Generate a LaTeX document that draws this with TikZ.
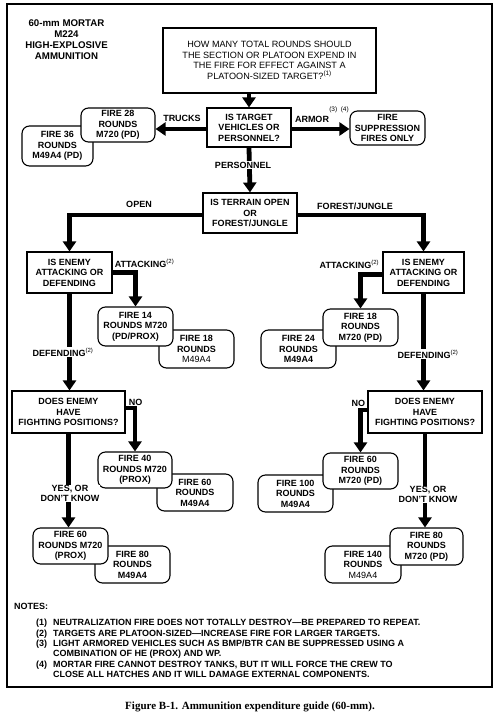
\documentclass[tikz,border=0pt]{standalone}
\usepackage{fontspec}
\setmainfont{Liberation Sans}
\newfontfamily\capfont{Liberation Serif}
\usetikzlibrary{arrows.meta,calc}
\begin{document}
\begin{tikzpicture}[x=1pt,y=-1pt,
  box/.style={draw, line width=1.1pt, fill=white, align=center, inner sep=0pt,
    font=\bfseries\fontsize{9}{10.4}\selectfont},
  qbox/.style={box},
  rbox/.style={box, rounded corners=7.5pt},
  flow/.style={line width=4.8pt, line join=miter, -{Triangle[width=13pt,length=10pt]}},
  lbl/.style={font=\bfseries\fontsize{9}{10.4}\selectfont, inner sep=0.6pt},
  wlbl/.style={lbl, fill=white, align=center},
  note/.style={font=\bfseries\fontsize{9}{10.4}\selectfont, inner sep=0pt, anchor=base west},
  supnum/.style={font=\fontsize{6.5}{7}\selectfont, inner sep=0pt}
]
\fill[white] (0,0) rectangle (500,718);
\useasboundingbox (0,0) rectangle (500,718);
\draw[line width=1.3pt] (7,4) rectangle (492,687);

% title
\node[align=center, inner sep=0pt, font=\bfseries\fontsize{9.7}{11}\selectfont] (title) at (66.5,39.5)
  {60-mm MORTAR\\M224\\HIGH-EXPLOSIVE\\AMMUNITION};

% question boxes
\node[qbox, font=\fontsize{9.1}{10.7}\selectfont, minimum width=213pt, minimum height=65pt] (top) at (269.5,60.5)
  {HOW MANY TOTAL ROUNDS SHOULD\\THE SECTION OR PLATOON EXPEND IN\\THE FIRE FOR EFFECT AGAINST A\\PLATOON-SIZED TARGET?\textsuperscript{(1)}};
\node[qbox, minimum width=84pt, minimum height=39pt] (target) at (249,127.5) {IS TARGET\\VEHICLES OR\\PERSONNEL?};
\node[qbox, minimum width=94pt, minimum height=40pt] (terrain) at (250,213) {IS TERRAIN OPEN\\OR\\FOREST/JUNGLE};
\node[qbox, minimum width=85pt, minimum height=41pt] (enemyL) at (69.5,272.5) {IS ENEMY\\ATTACKING OR\\DEFENDING};
\node[qbox, minimum width=81pt, minimum height=41pt] (enemyR) at (423.5,272.5) {IS ENEMY\\ATTACKING OR\\DEFENDING};
\node[qbox, minimum width=113pt, minimum height=42pt] (doesL) at (68.5,412) {DOES ENEMY\\HAVE\\FIGHTING POSITIONS?};
\node[qbox, minimum width=114pt, minimum height=42pt] (doesR) at (425,412) {DOES ENEMY\\HAVE\\FIGHTING POSITIONS?};

% result boxes (back ones first)
\node[rbox, minimum width=71pt, minimum height=40pt] (fire36) at (57.5,146) {FIRE 36\\ROUNDS\\M49A4 (PD)};
\node[rbox, minimum width=74pt, minimum height=34pt] (fire28) at (118,125) {FIRE 28\\ROUNDS\\M720 (PD)};
\node[rbox, minimum width=75pt, minimum height=34pt] (supp) at (387.5,128) {FIRE\\SUPPRESSION\\FIRES ONLY};

\node[rbox, minimum width=75pt, minimum height=38pt] (fire18L) at (196.5,349) {FIRE 18\\ROUNDS\\{\mdseries M49A4}};
\node[rbox, minimum width=75pt, minimum height=39pt] (fire14) at (135.5,326.5) {FIRE 14\\ROUNDS M720\\(PD/PROX)};

\node[rbox, minimum width=75pt, minimum height=38pt] (fire24) at (298.5,349) {FIRE 24\\ROUNDS\\M49A4};
\node[rbox, minimum width=75pt, minimum height=37pt] (fire18R) at (360.5,327.5) {FIRE 18\\ROUNDS\\M720 (PD)};

\node[rbox, minimum width=76pt, minimum height=37pt] (fire60L) at (195,492.5) {FIRE 60\\ROUNDS\\M49A4};
\node[rbox, minimum width=74pt, minimum height=36pt] (fire40) at (135,470) {FIRE 40\\ROUNDS M720\\(PROX)};

\node[rbox, minimum width=75pt, minimum height=37pt] (fire100) at (295.5,493.5) {FIRE 100\\ROUNDS\\M49A4};
\node[rbox, minimum width=75pt, minimum height=36pt] (fire60R) at (360.5,471) {FIRE 60\\ROUNDS\\M720 (PD)};

\node[rbox, minimum width=75pt, minimum height=37pt] (fire80L) at (132.5,564.5) {FIRE 80\\ROUNDS\\M49A4};
\node[rbox, minimum width=75pt, minimum height=36pt] (fire60P) at (70.5,546) {FIRE 60\\ROUNDS M720\\(PROX)};

\node[rbox, minimum width=76pt, minimum height=37pt] (fire140) at (363,564.5) {FIRE 140\\ROUNDS\\{\mdseries M49A4}};
\node[rbox, minimum width=73pt, minimum height=37pt] (fire80R) at (426.5,546.5) {FIRE 80\\ROUNDS\\M720 (PD)};

% connectors
\draw[flow] (target.north |- top.south) -- (target.north);
\draw[flow] ($(target.west)+(0,1.5)$) -- ($(target.west -| fire28.east)+(0,1.5)$);
\draw[flow] ($(target.east)+(0,1.5)$) -- ($(target.east -| supp.west)+(0,1.5)$);
\draw[flow] (target.south) -- (terrain.north);
\draw[flow] ($(terrain.west)+(0,2)$) -| (enemyL.north);
\draw[flow] ($(terrain.east)+(0,2)$) -| (enemyR.north);
\draw[flow] (enemyL.east) -| (fire14.north);
\draw[flow] (enemyL.south) -- (enemyL.south |- doesL.north);
\draw[flow] ($(enemyR.west)+(0,2)$) -| (fire18R.north);
\draw[flow] (enemyR.south) -- (enemyR.south |- doesR.north);
\draw[flow] ($(doesL.east)+(0,-4)$) -| (fire40.north);
\draw[flow] (doesL.south) -- (doesL.south |- fire60P.north);
\draw[flow] ($(doesR.west)+(0,-2)$) -| (fire60R.north);
\draw[flow] (doesR.south) -- (doesR.south |- fire80R.north);

% connector labels
\node[lbl] (ltrucks) at (182,118) {TRUCKS};
\node[lbl] (larmor) at (312,119) {ARMOR};
\node[supnum] (larmorn) at (339,110) {(3)\ \ (4)};
\node[wlbl] (lpers) at (243,165) {PERSONNEL};
\node[lbl] (lopen) at (139,204) {OPEN};
\node[lbl] (lforest) at (355,206) {FOREST/JUNGLE};
\node[lbl, anchor=base west] (lattL) at (114,267) {ATTACKING\textsuperscript{\mdseries(2)}};
\node[lbl, anchor=base east] (lattR) at (380,268) {ATTACKING\textsuperscript{\mdseries(2)}};
\node[wlbl, anchor=base] (ldefL) at (63,356) {DEFENDING\textsuperscript{\mdseries(2)}};
\node[wlbl, anchor=base] (ldefR) at (428,358) {DEFENDING\textsuperscript{\mdseries(2)}};
\node[lbl, anchor=base west] (lnoL) at (128,405) {NO};
\node[lbl, anchor=base east] (lnoR) at (366,406) {NO};
\node[wlbl] (lyesL) at (70,493.5) {YES, OR\\DON'T KNOW};
\node[wlbl] (lyesR) at (428,494.5) {YES, OR\\DON'T KNOW};

% notes
\node[note] (notes) at (14,609) {NOTES:};
\node[note] (n1a) at (36,625.5) {(1)};
\node[note] (n1) at (53,625.5) {NEUTRALIZATION FIRE DOES NOT TOTALLY DESTROY---BE PREPARED TO REPEAT.};
\node[note] (n2a) at (36,636) {(2)};
\node[note] (n2) at (53,636) {TARGETS ARE PLATOON-SIZED---INCREASE FIRE FOR LARGER TARGETS.};
\node[note] (n3a) at (36,646.5) {(3)};
\node[note] (n3) at (53,646.5) {LIGHT ARMORED VEHICLES SUCH AS BMP/BTR CAN BE SUPPRESSED USING A};
\node[note] (n3b) at (53,656.5) {COMBINATION OF HE (PROX) AND WP.};
\node[note] (n4a) at (36,667) {(4)};
\node[note] (n4) at (53,667) {MORTAR FIRE CANNOT DESTROY TANKS, BUT IT WILL FORCE THE CREW TO};
\node[note] (n4b) at (53,677) {CLOSE ALL HATCHES AND IT WILL DAMAGE EXTERNAL COMPONENTS.};

% caption
\node[inner sep=0pt, font=\capfont\bfseries\fontsize{11}{12}\selectfont] (caption) at (250,707)
  {Figure B-1. Ammunition expenditure guide (60-mm).};
\end{tikzpicture}
\end{document}
